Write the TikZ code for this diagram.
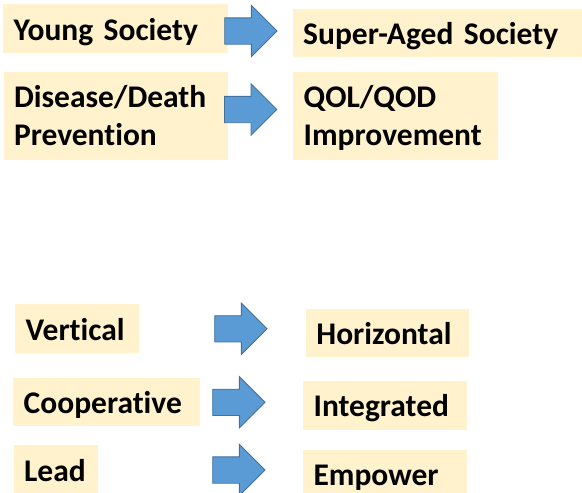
\documentclass[tikz,border=0pt]{standalone}
\usepackage{fontspec}
\setmainfont{Carlito}[Ligatures=NoCommon,WordSpace=0.85]
\usetikzlibrary{shapes.arrows}
\definecolor{TagCream}{RGB}{255,242,204}
\definecolor{ArrowBlue}{RGB}{91,155,213}
\definecolor{ArrowEdge}{RGB}{65,113,156}
\newcommand\tagfont{\bfseries\fontsize{31.5}{38.2}\selectfont}
\tikzset{
  tagbox/.style 2 args={fill=TagCream,anchor=north west,inner xsep=10.5pt,inner ysep=0pt,
    align=left,font=\tagfont,text width=#1pt-21pt,text height=35.8pt,text depth=#2pt-35.8pt},
  blockarrow/.style={single arrow,fill=ArrowBlue,draw=ArrowEdge,line width=0.8pt,anchor=tail,
    minimum height=52.3pt,minimum width=50.5pt,single arrow head extend=12.5pt,
    single arrow head indent=0pt,inner xsep=0pt,inner ysep=12.75pt}
}
\begin{document}
\begin{tikzpicture}[x=1pt,y=-1pt]
      \useasboundingbox (0,0) rectangle (582,493);
      \node[tagbox={224.7}{48.5}] (young) at (3,4) {Young Society};
      \node[tagbox={289.5}{48.7}] (aged) at (292.5,8.3) {Super-Aged Society};
      \node[tagbox={224.2}{87.6}] (prev) at (3.3,71.7) {Disease/Death\\Prevention};
      \node[tagbox={204.4}{87.6}] (qol) at (293,71.7) {QOL/QOD\\Improvement};
      \node[tagbox={123.3}{48.7}] (vert) at (15,304) {Vertical};
      \node[tagbox={163.3}{48.4}] (horiz) at (305.7,308.3) {Horizontal};
      \node[tagbox={186.7}{48.7}] (coop) at (13,377.3) {Cooperative};
      \node[tagbox={164.1}{49.3}] (integ) at (302.9,380.7) {Integrated};
      \node[tagbox={84.6}{48.7}] (lead) at (13.4,445) {Lead};
      \node[tagbox={164.1}{48.7}] (empow) at (302.9,449.3) {Empower};
      \node[blockarrow] (a1) at (224.3,31) {};
      \node[blockarrow] (a2) at (224,109.5) {};
      \node[blockarrow] (a3) at (214.3,328.8) {};
      \node[blockarrow] (a4) at (212.3,402.3) {};
      \node[blockarrow] (a5) at (212.3,470) {};
    \end{tikzpicture}
\end{document}
